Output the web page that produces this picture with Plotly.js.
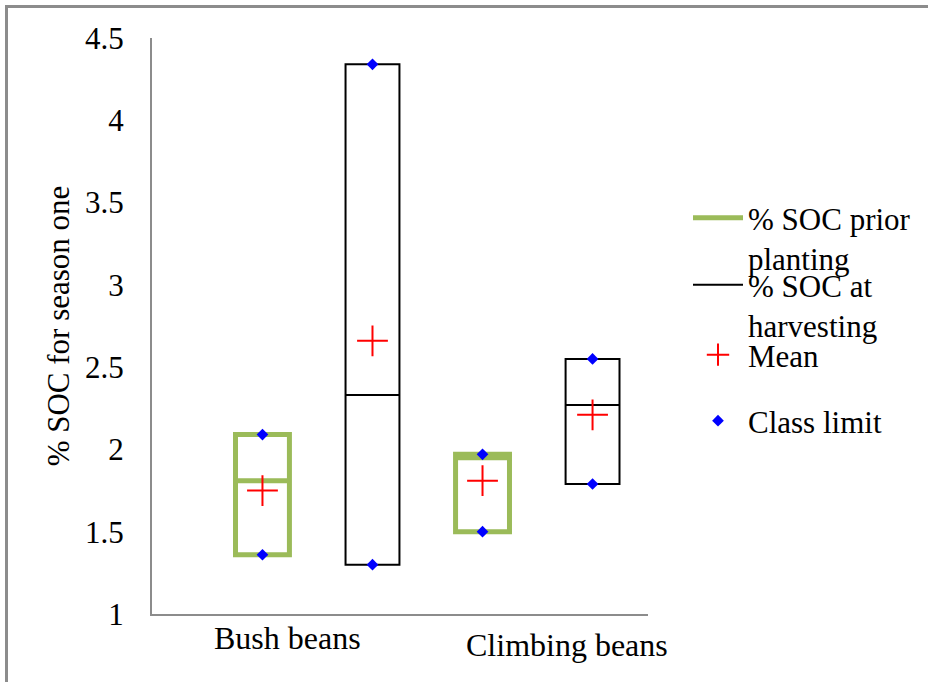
<!DOCTYPE html>
<html>
<head>
<meta charset="utf-8">
<script src="https://cdn.plot.ly/plotly-3.0.1.min.js"></script>
<style>
  html, body { margin: 0; padding: 0; background: #fff; }
  #wrap { position: relative; width: 928px; height: 682px; }
  #chart { position: absolute; left: 0; top: 0; width: 928px; height: 682px; }
  #frame { position: absolute; left: 5px; top: 5px; width: 923px; height: 677px;
           border-top: 3px solid #8c8c8c; border-left: 3px solid #8c8c8c;
           box-sizing: border-box; pointer-events: none; }
</style>
</head>
<body>
<div id="wrap">
  <div id="chart"></div>
  <div id="frame"></div>
</div>
<script>
// ---- data ----
const categories = ['Bush beans', 'Climbing beans'];

const priorLow    = [1.36, 1.50];
const priorMedian = [1.81, 1.95];
const priorHigh   = [2.09, 1.97];
const priorMean   = [1.75, 1.81];

const harvestLow    = [1.30, 1.79];
const harvestMedian = [2.33, 2.27];
const harvestHigh   = [4.34, 2.55];
const harvestMean   = [2.66, 2.21];

const seriesNames = ['% SOC prior<br>planting', '% SOC at<br>harvesting', 'Mean', 'Class limit'];

// ---- layout constants ----
const FONT = "'Liberation Serif', 'Times New Roman', serif";
const GREEN = '#9BBB59';
const AXIS = '#8c8c8c';
const boxOffset = 0.25;
const boxWidth = 0.245;
const labelOffsets = [-0.134, 0.134];
const labelY = [-0.042, -0.054];

// plot-area pixel helpers (for legend placement)
const PL = 152, PR = 648, PT = 38, PB = 614;
const px2x = px => (px - PL) / (PR - PL);
const py2y = py => (PB - py) / (PB - PT);

const catX = categories.map((c, i) => i);
const priorX = catX.map(x => x - boxOffset);
const harvestX = catX.map(x => x + boxOffset);

const boxCommon = {
  type: 'box', width: boxWidth, whiskerwidth: 0, boxpoints: false,
  fillcolor: 'rgba(0,0,0,0)', showlegend: false, hoverinfo: 'skip'
};

const traces = [
  Object.assign({}, boxCommon, {
    x: priorX, q1: priorLow, median: priorMedian, q3: priorHigh,
    lowerfence: priorLow, upperfence: priorHigh,
    line: { color: GREEN, width: 5 }
  }),
  Object.assign({}, boxCommon, {
    x: harvestX, q1: harvestLow, median: harvestMedian, q3: harvestHigh,
    lowerfence: harvestLow, upperfence: harvestHigh,
    line: { color: '#000000', width: 2 }
  }),
  { type: 'scatter', mode: 'lines', x: [null], y: [null], name: seriesNames[0],
    line: { color: GREEN, width: 5 }, legend: 'legend', hoverinfo: 'skip' },
  { type: 'scatter', mode: 'lines', x: [null], y: [null], name: seriesNames[1],
    line: { color: '#000000', width: 2 }, legend: 'legend2', hoverinfo: 'skip' },
  { type: 'scatter', mode: 'markers', name: seriesNames[2], legend: 'legend3',
    x: priorX.concat(harvestX), y: priorMean.concat(harvestMean),
    marker: { symbol: 'cross-thin', size: 22, color: '#ff0000', line: { color: '#ff0000', width: 2 } } },
  { type: 'scatter', mode: 'markers', name: seriesNames[3], legend: 'legend4',
    x: priorX.concat(priorX, harvestX, harvestX),
    y: priorLow.concat(priorHigh, harvestLow, harvestHigh),
    marker: { symbol: 'diamond', size: 9, color: '#0000ff' } }
];

const legendBase = {
  xanchor: 'left', yanchor: 'middle', bgcolor: 'rgba(0,0,0,0)', borderwidth: 0,
  valign: 'top', itemwidth: 50,
  font: { family: FONT, size: 31, color: '#000' }
};

const layout = {
  width: 928, height: 682,
  margin: { l: PL, r: 928 - PR, t: PT, b: 682 - PB, pad: 0, autoexpand: false },
  paper_bgcolor: '#ffffff', plot_bgcolor: '#ffffff',
  font: { family: FONT, color: '#000' },
  boxmode: 'overlay',
  xaxis: {
    range: [-0.752, 1.502], showgrid: false, zeroline: false,
    showline: true, linecolor: AXIS, linewidth: 2,
    showticklabels: false, ticks: '', fixedrange: true
  },
  yaxis: {
    range: [1, 4.5], tick0: 1, dtick: 0.5, showgrid: false, zeroline: false,
    showline: true, linecolor: AXIS, linewidth: 2, ticks: '',
    ticklabelstandoff: 20,
    tickfont: { family: FONT, size: 31, color: '#000' },
    title: { text: '% SOC for season one', font: { family: FONT, size: 31, color: '#000' }, standoff: 6 },
    fixedrange: true
  },
  showlegend: true,
  legend:  Object.assign({}, legendBase, { x: px2x(688), y: py2y(238) }),
  legend2: Object.assign({}, legendBase, { x: px2x(688), y: py2y(305) }),
  legend3: Object.assign({}, legendBase, { x: px2x(688), y: py2y(355) }),
  legend4: Object.assign({}, legendBase, { x: px2x(688), y: py2y(421) }),
  annotations: categories.map((c, i) => ({
    text: c, x: catX[i] + labelOffsets[i], xref: 'x', y: labelY[i], yref: 'paper',
    xanchor: 'center', yanchor: 'middle', showarrow: false,
    font: { family: FONT, size: 32, color: '#000' }
  }))
};

Plotly.newPlot('chart', traces, layout, { displayModeBar: false, staticPlot: true });
</script>
</body>
</html>
